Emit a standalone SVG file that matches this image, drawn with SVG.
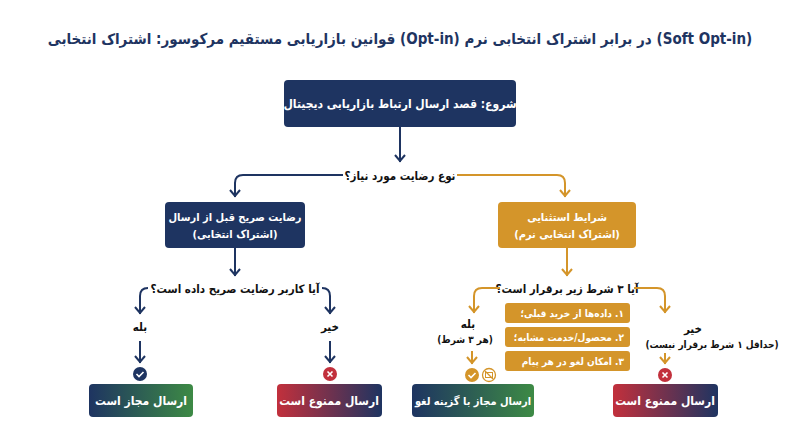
<svg xmlns="http://www.w3.org/2000/svg" width="800" height="447" viewBox="0 0 800 447">
<style>
text{font-family:"DejaVu Sans Condensed","DejaVu Sans",sans-serif;font-stretch:condensed;text-anchor:middle;font-weight:bold}
.w{fill:#fff;font-size:12px}
.k{fill:#111;font-size:11.5px}
.r{direction:rtl;text-anchor:start}
.nl{fill:none;stroke:#1e3461;stroke-width:2}
.gl{fill:none;stroke:#d4952a;stroke-width:2}
</style>
<defs>
<linearGradient id="gg" x1="0" x2="1"><stop offset="0" stop-color="#1e3461"/><stop offset="1" stop-color="#3d8a45"/></linearGradient>
<linearGradient id="rg" x1="0" x2="1"><stop offset="0" stop-color="#c2303c"/><stop offset="1" stop-color="#1e3461"/></linearGradient>
<marker id="an" viewBox="0 0 12 10" refX="6" refY="9" markerWidth="12" markerHeight="10" markerUnits="userSpaceOnUse"><path d="M1 2 L6 8 L11 2" fill="none" stroke="#1e3461" stroke-width="2"/></marker>
<marker id="ag" viewBox="0 0 12 10" refX="6" refY="9" markerWidth="12" markerHeight="10" markerUnits="userSpaceOnUse"><path d="M1 2 L6 8 L11 2" fill="none" stroke="#d4952a" stroke-width="2"/></marker>
</defs>
<rect width="800" height="447" fill="#fff"/>
<text x="400" y="44" style="font-size:15px;fill:#1e3461">قوانین بازاریابی مستقیم مرکوسور: اشتراک انتخابی (Opt-in) در برابر اشتراک انتخابی نرم (Soft Opt-in)</text>
<g id="connectors">
<path class="nl" d="M400 127 V162" marker-end="url(#an)"/>
<text class="k" x="400" y="180">نوع رضایت مورد نیاز؟</text>
<path class="nl" d="M343 175 H243 Q235 175 235 183 V197" marker-end="url(#an)"/>
<path class="gl" d="M457 175 H557 Q565 175 565 183 V197" marker-end="url(#ag)"/>
<path class="nl" d="M235 248 V276" marker-end="url(#an)"/>
<text class="k" x="235" y="293">آیا کاربر رضایت صریح داده است؟</text>
<path class="nl" d="M148 288 Q140 288 140 296 V314" marker-end="url(#an)"/>
<path class="nl" d="M322 288 Q330 288 330 296 V314" marker-end="url(#an)"/>
<text class="k" x="140" y="331">بله</text>
<text class="k" x="330" y="331">خیر</text>
<path class="nl" d="M140 341 V363" marker-end="url(#an)"/>
<path class="nl" d="M330 341 V363" marker-end="url(#an)"/>
<path class="gl" d="M567 248 V276" marker-end="url(#ag)"/>
<text class="k" x="567" y="293">آیا ۳ شرط زیر برقرار است؟</text>
<path class="gl" d="M500 288 H482 Q474 288 474 296 V313" marker-end="url(#ag)"/>
<path class="gl" d="M634 288 H657 Q665 288 665 296 V313" marker-end="url(#ag)"/>
<text class="k" x="468" y="328">بله</text>
<text class="k" x="465" y="343" style="font-size:10px">(هر ۳ شرط)</text>
<text class="k" x="693" y="333">خیر</text>
<text class="k" x="712" y="348" style="font-size:10px">(حداقل ۱ شرط برقرار نیست)</text>
<path class="gl" d="M472 351 V364" marker-end="url(#ag)"/>
<path class="gl" d="M665 353 V364" marker-end="url(#ag)"/>
</g>
<g id="icons">
<circle cx="140" cy="374" r="7" fill="#1e3461"/><path d="M136.5 374 l2.5 2.5 l4.5 -4.5" stroke="#fff" stroke-width="1.6" fill="none"/>
<circle cx="330" cy="374" r="7" fill="#c2303c"/><path d="M327.5 371.5 l5 5 M332.5 371.5 l-5 5" stroke="#fff" stroke-width="1.6"/>
<circle cx="472" cy="375" r="7" fill="#d4952a"/><path d="M468.5 375 l2.5 2.5 l4.5 -4.5" stroke="#fff" stroke-width="1.6" fill="none"/>
<circle cx="489" cy="375" r="6.5" fill="none" stroke="#d4952a" stroke-width="1.3"/><rect x="485.5" y="372.5" width="7" height="5" fill="none" stroke="#d4952a" stroke-width="1"/><path d="M485 371 l8 8" stroke="#d4952a" stroke-width="1.2"/>
<circle cx="665" cy="375" r="7" fill="#c2303c"/><path d="M662.5 372.5 l5 5 M667.5 372.5 l-5 5" stroke="#fff" stroke-width="1.6"/>
</g>
<g id="start"><rect x="284" y="80" width="232" height="47" rx="4" fill="#1e3461"/><text class="w" x="400" y="108">شروع: قصد ارسال ارتباط بازاریابی دیجیتال</text></g>
<g id="optin"><rect x="165" y="202" width="140" height="46" rx="4" fill="#1e3461"/><text class="w" x="235" y="221" style="font-size:11px">رضایت صریح قبل از ارسال</text><text class="w" x="235" y="238" style="font-size:11px">(اشتراک انتخابی)</text></g>
<g id="soft"><rect x="498" y="202" width="138" height="46" rx="4" fill="#d4952a"/><text class="w" x="567" y="221" style="font-size:11px">شرایط استثنایی</text><text class="w" x="567" y="238" style="font-size:11px">(اشتراک انتخابی نرم)</text></g>
<g id="c1"><rect x="505" y="303" width="125" height="20" rx="3" fill="#d4952a"/><text class="w r" x="624" y="317" style="font-size:10px">۱. داده‌ها از خرید قبلی؛</text></g>
<g id="c2"><rect x="505" y="327" width="125" height="20" rx="3" fill="#d4952a"/><text class="w r" x="624" y="341" style="font-size:10px">۲. محصول/خدمت مشابه؛</text></g>
<g id="c3"><rect x="505" y="351" width="125" height="20" rx="3" fill="#d4952a"/><text class="w r" x="624" y="365" style="font-size:10px">۳. امکان لغو در هر پیام</text></g>
<g id="allow1"><rect x="89" y="384" width="104" height="33" rx="4" fill="url(#gg)"/><text class="w" x="141" y="405">ارسال مجاز است</text></g>
<g id="deny1"><rect x="277" y="384" width="105" height="33" rx="4" fill="url(#rg)"/><text class="w" x="329" y="405">ارسال ممنوع است</text></g>
<g id="allow2"><rect x="412" y="384" width="122" height="33" rx="4" fill="url(#gg)"/><text class="w" x="473" y="405" style="font-size:11px">ارسال مجاز با گزینه لغو</text></g>
<g id="deny2"><rect x="613" y="384" width="105" height="33" rx="4" fill="url(#rg)"/><text class="w" x="665" y="405">ارسال ممنوع است</text></g>
</svg>
